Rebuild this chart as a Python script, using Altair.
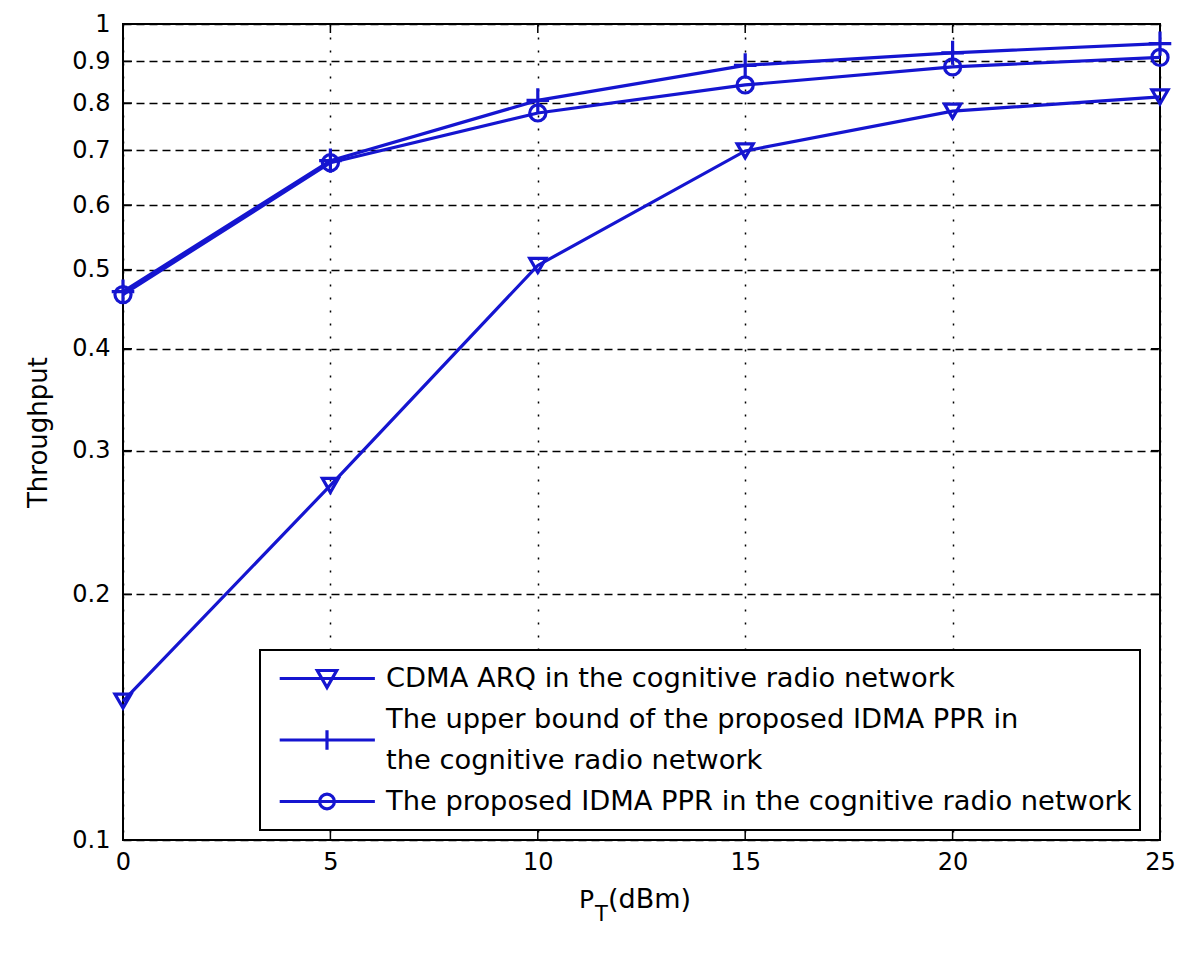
import altair as alt
import pandas as pd

# ---- data ----
pt_dbm = [0, 5, 10, 15, 20, 25]
cdma_arq = [0.148, 0.272, 0.506, 0.699, 0.782, 0.814]
upper_bound = [0.470, 0.680, 0.806, 0.890, 0.922, 0.946]
proposed = [0.466, 0.676, 0.778, 0.842, 0.886, 0.910]

series_names = [
    "CDMA ARQ in the cognitive radio network",
    "The upper bound of the proposed IDMA PPR in",
    "The proposed IDMA PPR in the cognitive radio network",
]
# second line of the wrapped legend label (no data of its own)
legend_cont = "the cognitive radio network"
legend_domain = [series_names[0], series_names[1], legend_cont, series_names[2]]

y_ticks = [0.1, 0.2, 0.3, 0.4, 0.5, 0.6, 0.7, 0.8, 0.9, 1.0]
x_ticks = [0, 5, 10, 15, 20, 25]

rows = []
for name, vals in zip(series_names, [cdma_arq, upper_bound, proposed]):
    for x, v in zip(pt_dbm, vals):
        rows.append({"pt": x, "thr": v, "series": name})
df = pd.DataFrame(rows)
xt_df = pd.DataFrame({"pt": x_ticks})
yt_df = pd.DataFrame({"thr": y_ticks})

BLUE = "#1515d0"
FONT = "DejaVu Sans"
W, H = 1037, 816

# chart marker shapes
plus_path = "M-1.4,0H1.4M0,-1.5V1.5"
marker_range = ["triangle-down", plus_path, "circle"]

# legend symbols: line with marker (r = sqrt(size)/2 = 57); row height 41
ROW = 41
SYM = 12996
half = (ROW / 2) / (SYM ** 0.5 / 2)  # half a row in path units
leg_tri = "M-0.83,0H0.84M-0.17,-0.14L0.17,-0.14L0,0.16Z"
# the "+" symbol straddles the two rows of the wrapped label:
# its top half is drawn in row 2, its bottom half in row 3 (entries are clipped)
leg_plus_a = f"M-0.83,{half:.4f}H0.84M0,{half - 0.17:.4f}V{half + 0.17:.4f}"
leg_plus_b = f"M-0.83,{-half:.4f}H0.84M0,{-half - 0.17:.4f}V{-half + 0.17:.4f}"
leg_circ = "M-0.83,0H0.84M0.13,0A0.13,0.13,0,1,1,-0.13,0A0.13,0.13,0,1,1,0.13,0Z"
legend_range = [leg_tri, leg_plus_a, leg_plus_b, leg_circ]

x_scale = alt.Scale(domain=[0, 25], nice=False, zero=False)
y_scale = alt.Scale(type="log", domain=[0.1, 1], nice=False)

x_enc = alt.X(
    "pt:Q",
    scale=x_scale,
    axis=alt.Axis(
        values=x_ticks, title=None, grid=True, gridDash=[2, 11], gridColor="black",
        gridWidth=1.5, gridOpacity=1, ticks=False, domain=False, labelFlush=False,
        labelFont=FONT, labelFontSize=24, labelColor="black", labelPadding=10,
    ),
)
y_enc = alt.Y(
    "thr:Q",
    scale=y_scale,
    axis=alt.Axis(
        values=y_ticks, format=".1~f", title="Throughput", grid=True,
        gridDash=[8, 5], gridColor="black", gridWidth=1.6, gridOpacity=1,
        ticks=False, domain=False, labelFlush=False, labelFont=FONT,
        labelFontSize=24, labelColor="black", labelPadding=13, titleFont=FONT,
        titleFontSize=26, titleFontWeight="normal", titleColor="black",
        titlePadding=20,
    ),
)

base = alt.Chart(df)

lines = base.mark_line(color=BLUE, strokeWidth=3.2).encode(
    x=x_enc, y=y_enc, detail="series:N"
)

points = base.mark_point(
    color=BLUE, strokeWidth=3.2, filled=False, size=260, opacity=1
).encode(
    x="pt:Q",
    y="thr:Q",
    shape=alt.Shape(
        "series:N",
        scale=alt.Scale(domain=series_names, range=marker_range),
        legend=None,
    ),
)

legend_layer = base.mark_point(
    color=BLUE, strokeWidth=3, filled=False, opacity=0, size=SYM
).encode(
    x="pt:Q",
    y="thr:Q",
    shape=alt.Shape(
        "series:N",
        scale=alt.Scale(domain=legend_domain, range=legend_range),
        title=None,
        legend=alt.Legend(
            orient="none", legendX=137, legendY=626,
            strokeColor="black", fillColor="white",
            padding=8, symbolSize=SYM, symbolStrokeWidth=3.2,
            symbolStrokeColor=BLUE, symbolFillColor="transparent",
            symbolOpacity=1, symbolOffset=0, clipHeight=ROW,
            labelFont=FONT, labelFontSize=27.3, labelColor="black",
            labelOffset=0, labelLimit=900,
        ),
    ),
)

# inward tick marks on all four sides
tick_len = 9
ticks_bottom = alt.Chart(xt_df).mark_rule(color="black", strokeWidth=1.5).encode(
    x=alt.X("pt:Q", scale=x_scale), y=alt.value(H), y2=alt.value(H - tick_len)
)
ticks_top = alt.Chart(xt_df).mark_rule(color="black", strokeWidth=1.5).encode(
    x=alt.X("pt:Q", scale=x_scale), y=alt.value(0), y2=alt.value(tick_len)
)
ticks_left = alt.Chart(yt_df).mark_rule(color="black", strokeWidth=1.5).encode(
    y=alt.Y("thr:Q", scale=y_scale), x=alt.value(0), x2=alt.value(tick_len)
)
ticks_right = alt.Chart(yt_df).mark_rule(color="black", strokeWidth=1.5).encode(
    y=alt.Y("thr:Q", scale=y_scale), x=alt.value(W), x2=alt.value(W - tick_len)
)

# x-axis title with subscript T
xt_p = alt.Chart(pd.DataFrame({"t": ["P"]})).mark_text(
    font=FONT, fontSize=25, align="left", baseline="alphabetic", color="black"
).encode(text="t:N", x=alt.value(456), y=alt.value(884))
xt_t = alt.Chart(pd.DataFrame({"t": ["T"]})).mark_text(
    font=FONT, fontSize=21, align="left", baseline="alphabetic", color="black"
).encode(text="t:N", x=alt.value(472), y=alt.value(897))
xt_rest = alt.Chart(pd.DataFrame({"t": ["(dBm)"]})).mark_text(
    font=FONT, fontSize=27, align="left", baseline="alphabetic", color="black"
).encode(text="t:N", x=alt.value(485), y=alt.value(884))

chart = (
    alt.layer(
        lines, ticks_bottom, ticks_top, ticks_left, ticks_right,
        points, legend_layer, xt_p, xt_t, xt_rest,
    )
    .resolve_scale(shape="independent")
    .properties(
        width=W, height=H,
        autosize=alt.AutoSizeParams(type="none"),
        padding={"left": 115, "top": 16, "right": 30, "bottom": 110},
        background="white",
    )
    .configure_view(stroke="black", strokeWidth=2)
    .configure_legend(strokeWidth=2, rowPadding=0)
)

chart.save("out.html", embed_options={"renderer": "svg", "actions": False})
